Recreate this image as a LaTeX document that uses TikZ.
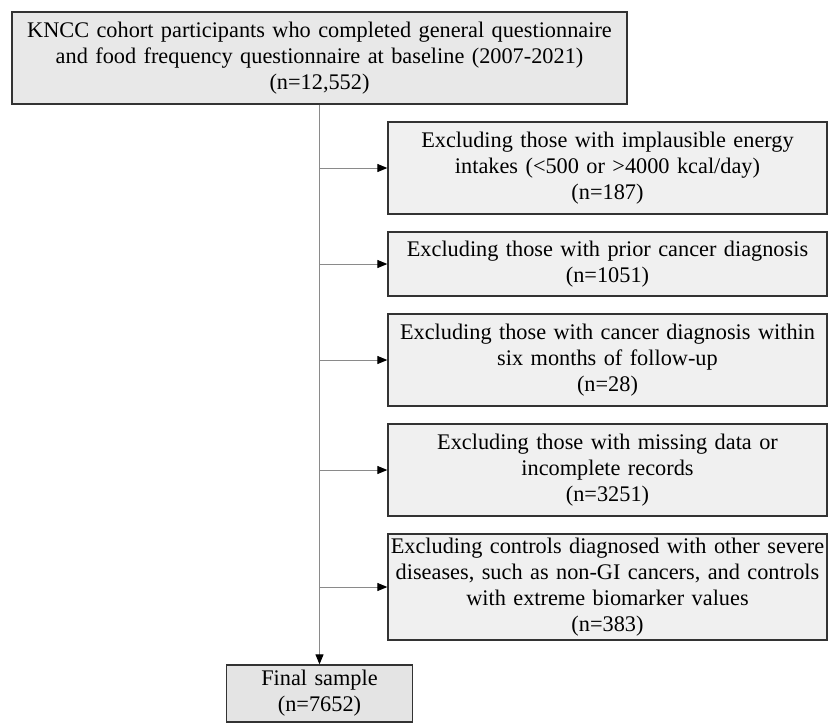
\documentclass[tikz,border=0pt]{standalone}
\usepackage{fontspec}
\setmainfont{Liberation Serif}
\usetikzlibrary{arrows.meta}
\hyphenpenalty=10000
\definecolor{boxline}{HTML}{333333}
\definecolor{linkgray}{HTML}{8A8A8A}
\definecolor{topfill}{HTML}{E8E8E8}
\definecolor{exfill}{HTML}{F0F0F0}
\definecolor{endfill}{HTML}{E4E4E4}
\tikzset{
  flowbox/.style={draw=boxline, line width=1.3pt, align=center, inner xsep=1pt,
    inner ysep=2pt, font=\fontsize{22.3}{26}\selectfont},
  exbox/.style={flowbox, fill=exfill, text width=437pt, minimum width=439pt},
  link/.style={draw=linkgray, line width=1pt, -{Triangle[black,length=10pt,width=8pt]}}
}
\begin{document}
\begin{tikzpicture}[x=1pt,y=-1pt]
				\useasboundingbox (0,0) rectangle (829,724);
				\node[flowbox, fill=topfill, text width=613pt, minimum width=615pt, minimum height=92pt] (cohort) at (319.5, 58)
				{KNCC cohort participants who completed general questionnaire\\ and food frequency questionnaire at baseline (2007-2021)\\ (n=12,552)};
				\node[exbox, minimum height=92pt] (energy) at (607.5, 168)
				{Excluding those with implausible energy\\ intakes (<500 or >4000 kcal/day)\\ (n=187)};
				\node[exbox, minimum height=64pt] (prior) at (607.5, 264)
				{Excluding those with prior cancer diagnosis\\ (n=1051)};
				\node[exbox, minimum height=92pt] (early) at (607.5, 360)
				{Excluding those with cancer diagnosis within\\ six months of follow-up\\ (n=28)};
				\node[exbox, minimum height=92pt] (missing) at (607.5, 470)
				{Excluding those with missing data or\\ incomplete records\\ (n=3251)};
				\node[exbox, minimum height=106pt] (controls) at (607.5, 587)
				{Excluding controls diagnosed with other severe\\ diseases, such as non-GI cancers, and controls\\ with extreme biomarker values\\ (n=383)};
				\node[flowbox, fill=endfill, text width=184pt, minimum width=186pt, minimum height=57pt] (final) at (319.5, 693.5)
				{Final sample\\ (n=7652)};
				% trunk and exclusion arrows
				\draw[link] (cohort.south) -- (final.north);
				\foreach \ex in {energy, prior, early, missing, controls}
					\draw[link] (cohort.south |- \ex.west) -- (\ex.west);
			\end{tikzpicture}
\end{document}
